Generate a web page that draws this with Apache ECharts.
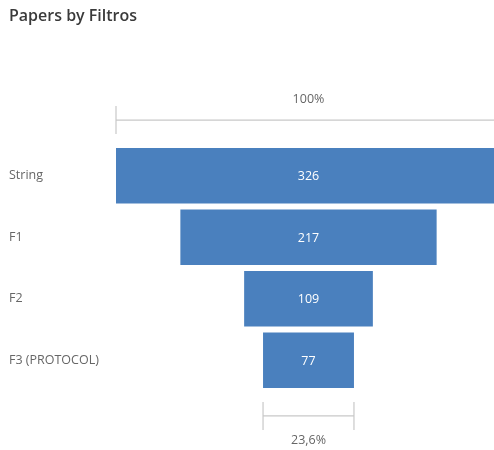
<!DOCTYPE html>
<html>
<head>
<meta charset="utf-8">
<script src="https://cdn.jsdelivr.net/npm/echarts@6/dist/echarts.min.js"></script>
<style>
html,body{margin:0;padding:0;background:#fff;}
#chart{width:494px;height:450px;}
</style>
</head>
<body>
<div id="chart"></div>
<script>
var categories = ['String', 'F1', 'F2', 'F3 (PROTOCOL)'];
var values = [326, 217, 109, 77];
var titleText = 'Papers by Filtros';

var maxVal = Math.max.apply(null, values);
var firstVal = values[0];
var lastVal = values[values.length - 1];
var pctText = (lastVal / firstVal * 100).toFixed(1).replace('.', ',') + '%';

var BAR_COLOR = '#4a80be';
var LINE_COLOR = '#c8c8c8';
var FONT = '"Open Sans", "Noto Sans", sans-serif';

var chart = echarts.init(document.getElementById('chart'), null, {renderer: 'canvas'});

function renderItem(params, api) {
  var v = api.value(0);
  var c = api.value(1);
  var left = api.coord([-v / 2, c]);
  var right = api.coord([v / 2, c]);
  var band = api.size([0, 1])[1];
  var h = band * 0.9;
  var cy = left[1];
  var top = cy - h / 2, bottom = cy + h / 2;
  var children = [{
    type: 'rect',
    shape: {x: left[0], y: top, width: right[0] - left[0], height: h},
    style: {fill: BAR_COLOR}
  }, {
    type: 'text',
    style: {
      text: String(v), x: (left[0] + right[0]) / 2, y: cy + 1,
      align: 'center', verticalAlign: 'middle',
      fill: '#ffffff', font: '12.5px ' + FONT
    }
  }];
  var lineStyle = {stroke: LINE_COLOR, lineWidth: 1.2};
  if (params.dataIndex === 0) {
    var ly = top - 28;
    children.push({type: 'line', shape: {x1: left[0], y1: ly, x2: right[0], y2: ly}, style: lineStyle});
    children.push({type: 'line', shape: {x1: left[0], y1: ly - 14, x2: left[0], y2: ly + 14}, style: lineStyle});
    children.push({type: 'line', shape: {x1: right[0], y1: ly - 14, x2: right[0], y2: ly + 14}, style: lineStyle});
    children.push({type: 'text', style: {text: '100%', x: (left[0] + right[0]) / 2, y: ly - 21,
      align: 'center', verticalAlign: 'middle', fill: '#666666', font: '12.5px ' + FONT}});
  }
  if (params.dataIndex === values.length - 1) {
    var by = bottom + 28;
    children.push({type: 'line', shape: {x1: left[0], y1: by, x2: right[0], y2: by}, style: lineStyle});
    children.push({type: 'line', shape: {x1: left[0], y1: by - 14, x2: left[0], y2: by + 14}, style: lineStyle});
    children.push({type: 'line', shape: {x1: right[0], y1: by - 14, x2: right[0], y2: by + 14}, style: lineStyle});
    children.push({type: 'text', style: {text: pctText, x: (left[0] + right[0]) / 2, y: by + 25,
      align: 'center', verticalAlign: 'middle', fill: '#666666', font: '12.5px ' + FONT}});
  }
  return {type: 'group', children: children};
}

var option = {
  animation: false,
  title: {
    text: titleText, left: 9, top: 8, padding: 0,
    textStyle: {fontFamily: FONT, fontSize: 16, fontWeight: 600, color: '#3a3a3a'}
  },
  grid: {left: 116, width: 385, top: 145, height: 246, containLabel: false, outerBoundsMode: 'none'},
  xAxis: {
    type: 'value', min: -maxVal / 2, max: maxVal / 2, show: false
  },
  yAxis: {
    type: 'category', data: categories, inverse: true,
    axisLine: {show: false}, axisTick: {show: false}, splitLine: {show: false},
    axisLabel: {align: 'left', margin: 107, color: '#666666', fontSize: 12.5, fontFamily: FONT}
  },
  series: [{
    type: 'custom',
    renderItem: renderItem,
    clip: false,
    encode: {x: 0, y: 1},
    data: values.map(function (v, i) { return [v, i]; })
  }]
};
chart.setOption(option);
</script>
</body>
</html>
